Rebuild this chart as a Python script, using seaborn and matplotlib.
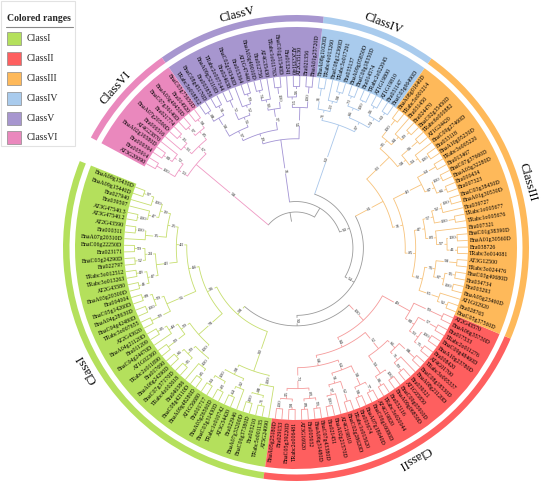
import numpy as np
import matplotlib
matplotlib.use("Agg")
import matplotlib.pyplot as plt
import seaborn as sns
from matplotlib.patches import Wedge, Rectangle

# classes, colours and the tree (newick, internal labels = bootstrap)
class_names = ["ClassI", "ClassII", "ClassIII", "ClassIV", "ClassV", "ClassVI"]
range_colors = ["#b4e05c", "#fe5f5f", "#feb95a", "#a9cbed", "#a796cf", "#ea88bd"]
branch_colors = ["#c6de6e", "#f59a9a", "#f7c27a", "#a8c6ea", "#a293d4", "#ef98c3"]
backbone_color = "#9a9a9a"

c1_a = ("((((BnaA09g15430D,BnaA09g15440D)97,Bra027940)100,(Bra039597,(AT3G47540.3,AT3G47540.2)100)47)39,"
        "((AT2G43590,Bra000311)100,BnaA07g20310D)35)25")
c1_b = ("(((BnaC06g22250D,Bra023171)99,(BnaC03g24290D,Bra022797)52)24,"
        "((TRabc3o012512,TRabc3o013263)49,(AT2G43580,BnaA03g20300D)41)47)43")
c1_c = "(((Bra004004,BnaC05g14260D)89,(BnaA04g28630D,BnaC04g42480D)100)99,(TRabc3o007655,AT2G43620)99)56"
c1_d = ("((((BnaA04g21120D,Bra011209)85,BnaC04g24470D)44,(AT1G02360,TRabc2o011890)99)99,"
        "(((Bra017690,BnaA06g24290D)66,(BnaC07g37170D,TRabc4o002618)95)99,"
        "(Bra040386,(BnaC08g42110D,BnaA09g48280D)85)100)100)78")
c1_e = ("((((AT1G56680,Bra001717)94,(BnaA03g26560D,BnaC03g31430D)83)100,((TRabc1o010742,AT3G54420)64,Bra022946)92)98,"
        "(((BnaA07g33200D,BnaC06g37380D)100,(Bra003210,TRabc5o001135)71)88,AT5G24090)100)90")
tree_class1 = "((((" + c1_a + "," + c1_b + ")43," + c1_c + ")44," + c1_d + ")96," + c1_e + ")98"

c2_a = ("(((BnaA05g25180D,Bra029153)100,(BnaC05g39220D,TRabc2o006481)98)95,"
        "((AT3G16920,Bra005932)89,(BnaA06g31480D,BnaC07g43380D)99)83)73")
c2_b = ("((((Bra021451,BnaA02g21570D)100,AT4G19810)97,(BnaC02g28620D,TRabc1o015620)62)91,"
        "((Bra003674,BnaA07g18040D)98,(BnaC06g16080D,AT4G19820)77)58)64")
c2_c = ("(((TRabc3o020044,Bra032116)86,(BnaA09g06850D,BnaC09g05910D)100)94,"
        "(((AT1G05850,Bra039321)99,BnaA08g21120D)71,(BnaC08g18530D,TRabc3o005337)88)66)52")
c2_d = ("((((AT4G01700,Bra008420)75,(BnaA10g23780D,BnaC09g48460D)100)93,(TRabc2o011276,Bra017533)57)80,"
        "(BnaA06g35730D,AT2G43570)99)49")
tree_class2 = "(((" + c2_a + "," + c2_b + ")68," + c2_c + ")84," + c2_d + ")100"

c3_a = ("(((BnaC05g37560D,Bra028765)92,AT1G02920)65,(((BnaA05g23460D,Bra003293)100,"
        "(Bra034734,BnaC03g40680D)95)87,(TRabc3o024476,AT3G12500)98)76)61")
c3_b = ("((((TRabc3o014081,Bra038726)41,(BnaA01g30560D,BnaC01g38390D)100)97,Bra007321)83,"
        "((TRabc1o005676,TRabc1o005677)100,(Bra039727,(BnaA01g30530D,BnaC03g38450D)100)92)57)47")
c3_c = "(((Bra007323,Bra000434)66,(BnaA03g32280D,BnaC07g37660D)100)87,(Bra013467,TRabc3o005220)64)43"
c3_d = ("((((BnaA10g05230D,Bra033118)100,BnaC09g27460D)94,(AT1G24420,TRabc6o000882)96)58,"
        "(((BnaC02g35450D,Bra024470)99,Bra031450)84,(TRabc5o001214,BnaA08g01640D)100)95)93")
tree_class3 = "(((" + c3_a + "," + c3_b + ")85," + c3_c + ")31," + c3_d + ")61"

tree_class4 = ("((((BnaC03g66490D,Bra031147)60,(AT1G19810,AT1G19800)96)74,((TRabc2o022045,Bra014574)100,"
               "(BnaC09g18350D,BnaA09g05850D)73)66)97,(((Bra035137,TRabc3o017291)98,BnaC08g12360D)53,"
               "(TRabc4o013260,BnaA08g11020D)31)71)60")
tree_class5 = ("(((BnaA01g25720D,Bra021356)100,((AT2G35130,AT2G35140)96,Bra013241)53)95,"
               "(((BnaC01g31540D,TRabc1o011763)100,(AT4G35430,(Bra012756,BnaA03g49010D)74)90)37,"
               "((((AT1G47440,Bra015364)99,BnaC02g19340D)52,(Bra024638,TRabc2o007144)72)56,"
               "((BnaA09g52110D,Bra003856)91,(BnaC08g45170D,TRabc3o018812)88)58)97)29)31")
tree_class6 = ("((((BnaC03g75650D,Bra014920)98,(BnaA03g49450D,BnaC07g36140D)97)85,"
               "((Bra021774,BnaA07g20590D)33,Bra006516)93)67,"
               "((AT4G23870,(BnaA02g16580D,Bra009394)80)72,(Bra005914,AT3G20090)100)53)58")
class_trees = [tree_class1, tree_class2, tree_class3, tree_class4, tree_class5, tree_class6]
backbone_support = ["50", "54", "50", "", ""]


def parse_newick(s):
    pos = 0

    def node():
        nonlocal pos
        kids = []
        if s[pos] == "(":
            pos += 1
            kids.append(node())
            while s[pos] == ",":
                pos += 1
                kids.append(node())
            pos += 1
        start = pos
        while pos < len(s) and s[pos] not in ",()":
            pos += 1
        return {"name": s[start:pos], "children": kids}

    return node()


def tag(n, cls):
    n["cls"] = cls
    for c in n["children"]:
        tag(c, cls)


clades = []
for i, t in enumerate(class_trees):
    c = parse_newick(t)
    tag(c, i)
    clades.append(c)

root = clades[0]
for k in range(1, 6):
    root = {"name": backbone_support[k - 1], "children": [root, clades[k]], "cls": None}

# layout
cx, cy = 296, 243
r_tip, r_root = 172, 36
start_ang, slot = 159.2, 2.21

leaves = []


def collect(n):
    if not n["children"]:
        leaves.append(n)
    for c in n["children"]:
        collect(c)


collect(root)
for i, lf in enumerate(leaves):
    lf["ang"] = start_ang + i * slot


def height(n):
    if not n["children"]:
        n["h"] = 0
    else:
        n["h"] = 1 + max(height(c) for c in n["children"])
    return n["h"]


def angle(n):
    if n["children"]:
        for c in n["children"]:
            angle(c)
        n["ang"] = 0.5 * (n["children"][0]["ang"] + n["children"][-1]["ang"])


height(root)
angle(root)
step = (r_tip - r_root) / root["h"]


def rad(n):
    return r_tip - n["h"] * step


def pxy(r, a):
    t = np.deg2rad(a)
    return cx + r * np.cos(t), cy + r * np.sin(t)


sns.set_theme(style="white")
fig = plt.figure(figsize=(5.5, 4.91), dpi=100)
ax = fig.add_axes([0, 0, 1, 1])
ax.set_xlim(0, 550)
ax.set_ylim(0, 491)
ax.axis("off")

serif = ["Liberation Serif", "DejaVu Serif"]

# coloured label band and outer ring
idx = 0
for i, c in enumerate(clades):
    n_leaf = len([l for l in leaves if l["cls"] == i])
    a0 = start_ang + idx * slot - slot / 2
    a1 = start_ang + (idx + n_leaf - 1) * slot + slot / 2
    idx += n_leaf
    ax.add_patch(Wedge((cx, cy), 221, a0, a1, width=221 - r_tip, facecolor=range_colors[i], edgecolor="none"))
    ax.add_patch(Wedge((cx, cy), 233, a0, a1, width=6.5, facecolor=range_colors[i], edgecolor="none"))
    mid = 0.5 * (a0 + a1)
    tx, ty = pxy(241, mid)
    ax.text(tx, ty, class_names[i], rotation=(mid - 90) % 360, ha="center", va="center",
            fontsize=9, family=serif, color="black", rotation_mode="anchor")


def draw(n, parent_r):
    r = r_tip if not n["children"] else rad(n)
    col = branch_colors[n["cls"]] if n["cls"] is not None else backbone_color
    a = n["ang"]
    if parent_r is not None:
        x0, y0 = pxy(parent_r, a)
        x1, y1 = pxy(r, a)
        ax.plot([x0, x1], [y0, y1], color=col, lw=0.6, solid_capstyle="butt")
    if n["children"]:
        a0 = min(c["ang"] for c in n["children"])
        a1 = max(c["ang"] for c in n["children"])
        ts = np.deg2rad(np.linspace(a0, a1, max(4, int(a1 - a0) + 2)))
        ax.plot(cx + r * np.cos(ts), cy + r * np.sin(ts), color=col, lw=0.6)
        for c in n["children"]:
            draw(c, r)
        if n["name"] and parent_r is not None:
            mx, my = pxy(0.5 * (parent_r + r), a)
            d = a % 360
            rot = d - 180 if 90 < d < 270 else d
            ax.text(mx, my, n["name"], fontsize=3.6, family=serif, ha="center", va="center",
                    rotation=rot, rotation_mode="anchor", color="#333333",
                    bbox=dict(facecolor="white", edgecolor="none", pad=0.15))
    else:
        d = a % 360
        lx, ly = pxy(r_tip + 1.5, a)
        if 90 < d < 270:
            ax.text(lx, ly, n["name"], fontsize=4.2, family=serif, rotation=d - 180, ha="right",
                    va="center", rotation_mode="anchor", color="black")
        else:
            ax.text(lx, ly, n["name"], fontsize=4.2, family=serif, rotation=d, ha="left",
                    va="center", rotation_mode="anchor", color="black")


draw(root, None)
# root stub
x0, y0 = pxy(r_root, root["ang"])
x1, y1 = pxy(r_root - 9, root["ang"])
ax.plot([x0, x1], [y0, y1], color=backbone_color, lw=0.6)

# legend
ax.add_patch(Rectangle((1, 491 - 146), 74, 145, facecolor="white", edgecolor="#e2e2e2", lw=0.8))
ax.text(39, 491 - 18, "Colored ranges", fontsize=7, fontweight="bold", family=serif, ha="center", va="center")
ax.plot([6, 73], [491 - 27, 491 - 27], color="#888888", lw=0.8)
leg_y = [38.5, 58, 78, 98, 118, 137.5]
for i, name in enumerate(class_names):
    y = 491 - leg_y[i]
    ax.add_patch(Rectangle((7, y - 6.5), 14, 13, facecolor=range_colors[i], edgecolor="#8a8a8a", lw=0.5))
    ax.text(27, y, name, fontsize=7, family=serif, ha="left", va="center")

fig.savefig("out.png", dpi=100)
plt.close(fig)
